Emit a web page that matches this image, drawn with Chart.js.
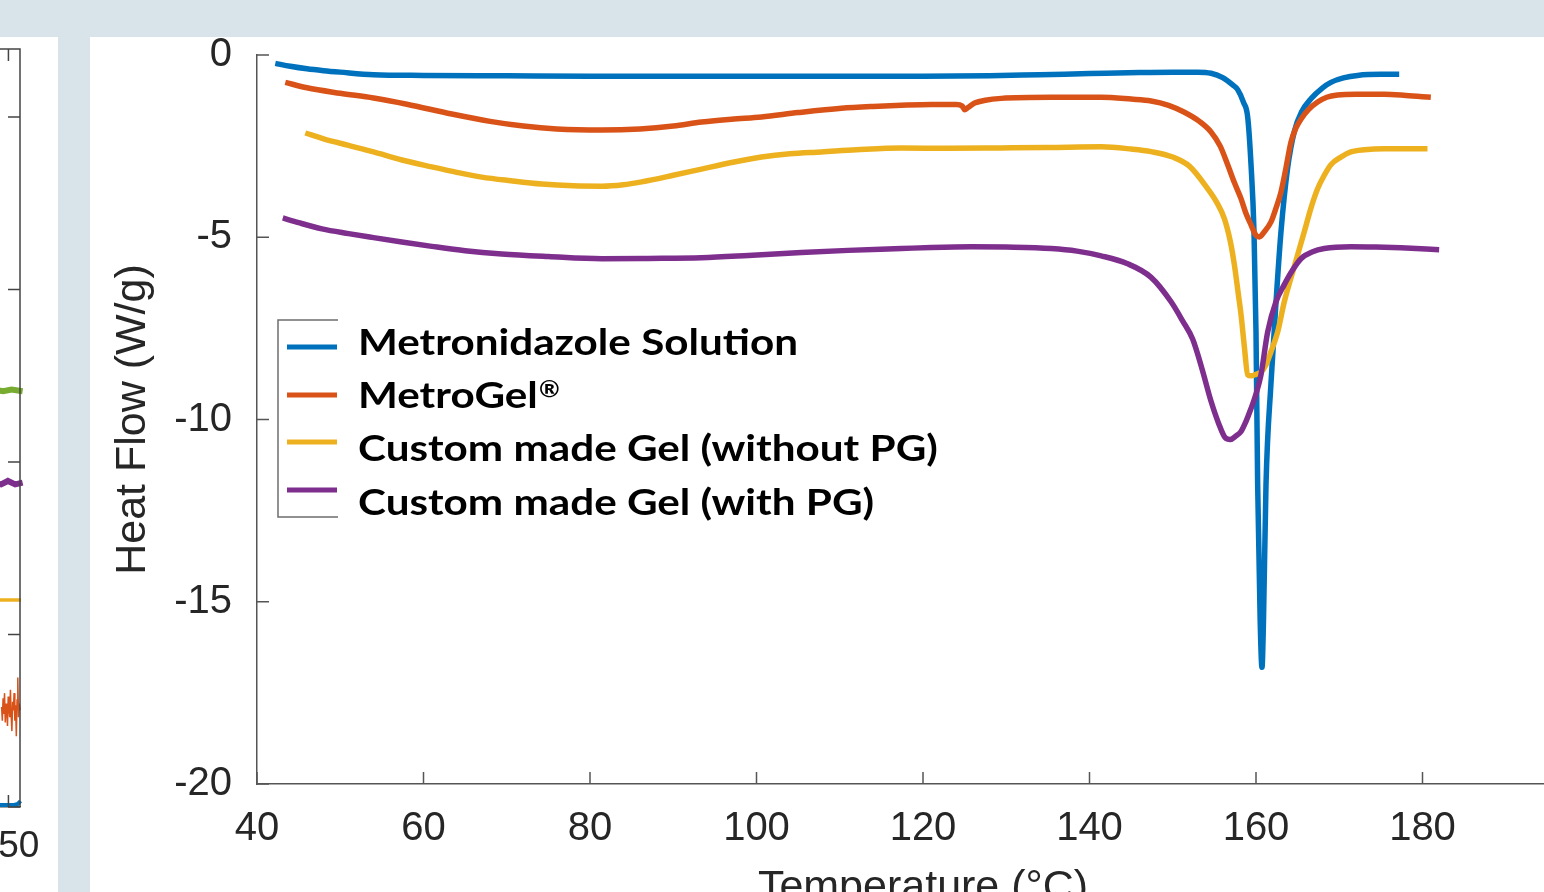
<!DOCTYPE html>
<html>
<head>
<meta charset="utf-8">
<script src="https://cdn.jsdelivr.net/npm/chart.js@4.4.1/dist/chart.umd.min.js"></script>
<style>
  html, body { margin:0; padding:0; width:1544px; height:892px; overflow:hidden; background:#d8e4ea; }
  #leftPanel { position:absolute; left:0; top:37px; width:58px; height:855px; background:#fff; overflow:hidden; }
  #leftCanvas { position:absolute; left:-580px; top:0; }
  #mainPanel { position:absolute; left:90px; top:37px; width:1454px; height:855px; background:#fff; }
  #mainCanvas { position:absolute; left:90px; top:14px; z-index:2; }
</style>
</head>
<body>
<div id="leftPanel"><canvas id="leftCanvas" width="640" height="855"></canvas></div>
<div id="mainPanel"></div>
<canvas id="mainCanvas" width="1499" height="900"></canvas>
<script>
// ---------- main chart data (temperature °C, heat flow W/g) ----------
const seriesNames = ['Metronidazole Solution', 'MetroGel®', 'Custom made Gel (without PG)', 'Custom made Gel (with PG)'];
const seriesColors = ['#0072BD', '#D95319', '#EDB120', '#7E2F8E'];
const xTicks = [40, 60, 80, 100, 120, 140, 160, 180];
const yTicks = [0, -5, -10, -15, -20];

const metronidazoleSolution = [
  [42.2,-0.23],[44,-0.31],[46,-0.38],[48,-0.43],[50,-0.47],[54,-0.54],[60,-0.56],[70,-0.57],[80,-0.58],
  [90,-0.58],[100,-0.58],[110,-0.58],[120,-0.58],[128,-0.57],[134,-0.54],[140,-0.51],[146,-0.48],
  [150,-0.47],[153,-0.47],[154.6,-0.5],[156.0,-0.62],[157.2,-0.82],[157.8,-0.95],[158.5,-1.3],
  [159.0,-1.7],[159.4,-3.0],[159.76,-4.85],[160.0,-7.6],[160.2,-11.8],[160.5,-15.5],[160.72,-16.8],
  [160.9,-15.5],[161.2,-11.8],[161.8,-9.0],[162.4,-6.8],[163.0,-4.85],[163.8,-3.1],[164.6,-2.1],
  [165.5,-1.55],[166.6,-1.2],[168.0,-0.9],[169.0,-0.75],[170.5,-0.63],[172.2,-0.56],[175,-0.53],[177.2,-0.53]
];
const metroGel = [
  [43.4,-0.75],[46,-0.9],[50,-1.05],[54,-1.18],[58,-1.35],[63.4,-1.62],[68,-1.82],[72,-1.95],[76,-2.03],
  [81.4,-2.06],[86,-2.03],[90,-1.95],[93.4,-1.84],[97,-1.76],[100.6,-1.7],[105,-1.58],[110.2,-1.46],
  [114,-1.41],[117.4,-1.38],[121,-1.36],[124,-1.36],[124.7,-1.40],[125.0,-1.50],[125.4,-1.44],
  [126.2,-1.32],[127.5,-1.24],[129.4,-1.19],[135.4,-1.16],[141.4,-1.16],[145,-1.21],[147.4,-1.26],
  [149.5,-1.38],[151.4,-1.57],[153.2,-1.82],[154.6,-2.11],[155.7,-2.5],[156.6,-3.01],[157.4,-3.5],
  [158.2,-3.94],[158.8,-4.35],[159.4,-4.66],[160.0,-4.95],[160.4,-4.99],[161.0,-4.85],[161.8,-4.58],
  [162.4,-4.2],[163.0,-3.76],[163.6,-3.1],[164.2,-2.39],[164.8,-2.0],[165.4,-1.76],[166.3,-1.5],
  [167.4,-1.29],[168.5,-1.16],[169.8,-1.1],[172,-1.08],[175.4,-1.08],[178,-1.11],[181.0,-1.16]
];
const gelWithoutPG = [
  [45.8,-2.14],[48,-2.3],[51,-2.48],[54,-2.66],[57.4,-2.88],[61,-3.07],[64,-3.22],[67,-3.35],[70.5,-3.45],
  [74.2,-3.54],[78,-3.59],[81.4,-3.6],[84,-3.56],[86.2,-3.48],[90,-3.3],[93.4,-3.13],[97,-2.95],
  [100.6,-2.8],[104,-2.71],[107.8,-2.66],[112,-2.6],[117.4,-2.55],[123,-2.56],[129.4,-2.55],[135,-2.54],
  [141.4,-2.52],[145,-2.58],[147.4,-2.65],[150,-2.8],[152,-3.05],[154.2,-3.67],[155.3,-4.05],
  [156.2,-4.49],[156.9,-5.1],[157.4,-5.75],[157.9,-6.6],[158.2,-7.12],[158.6,-8.0],[159.0,-8.77],
  [159.4,-8.8],[160.0,-8.76],[160.6,-8.7],[161.2,-8.5],[161.8,-8.14],[162.6,-7.6],[163.4,-6.77],
  [164.6,-5.8],[165.8,-4.85],[166.6,-4.2],[167.4,-3.67],[168.2,-3.3],[169.0,-3.01],[170.2,-2.8],
  [171.4,-2.66],[173,-2.6],[175.4,-2.57],[178,-2.57],[180.6,-2.57]
];
const gelWithPG = [
  [43.1,-4.47],[45,-4.6],[47.8,-4.77],[51,-4.9],[54,-5.01],[57.4,-5.13],[61,-5.25],[65,-5.37],[69.4,-5.46],
  [75,-5.53],[81.4,-5.59],[87,-5.58],[93.4,-5.56],[99,-5.5],[105.4,-5.42],[111,-5.36],[117.4,-5.31],
  [121,-5.28],[125.8,-5.26],[130,-5.27],[135.4,-5.31],[138.5,-5.38],[141.4,-5.51],[144.5,-5.72],
  [147.4,-6.1],[149.8,-6.77],[151.2,-7.3],[152.4,-7.8],[153.5,-8.6],[154.6,-9.5],[155.5,-10.1],
  [156.3,-10.5],[156.9,-10.55],[157.6,-10.45],[158.2,-10.33],[158.8,-10.05],[159.4,-9.7],[160.0,-9.3],
  [160.6,-8.77],[161.4,-7.6],[162.4,-6.77],[163.4,-6.3],[164.4,-5.9],[165.4,-5.59],[166.8,-5.4],
  [168.2,-5.31],[171.4,-5.26],[174.4,-5.27],[177.4,-5.29],[182.0,-5.34]
];

// ---------- neighbouring (cropped) panel on the left ----------
const leftColors = ['#77AC30', '#7E2F8E', '#EDB120', '#D95319', '#0072BD'];
const leftXTicks = [50, 100, 150];
const leftYTicks = [0, 1, 2, 3, 4];
const leftGreen  = [[147,2.42],[149,2.41],[150.6,2.42],[152.7,2.41]];
const leftPurple = [[147,1.88],[148.6,1.87],[149.9,1.89],[151.3,1.87],[152.7,1.88]];
const leftYellow = [[147,1.2],[149,1.2],[151,1.2],[152.4,1.2]];
const leftOrange = [[148.7,0.58],[148.84,0.50],[148.98,0.63],[149.12,0.54],[149.26,0.66],[149.4,0.49],
  [149.54,0.60],[149.68,0.55],[149.82,0.47],[149.96,0.64],[150.1,0.57],[150.24,0.52],[150.38,0.68],
  [150.52,0.53],[150.66,0.44],[150.8,0.61],[150.94,0.56],[151.08,0.66],[151.22,0.50],[151.36,0.59],
  [151.5,0.41],[151.64,0.62],[151.78,0.75],[151.92,0.52],[152.06,0.60],[152.2,0.56]];
const leftBlue   = [[147,0.012],[151.1,0.012],[151.8,0.018],[152.3,0.035],[152.7,0.06]];

const toXY = arr => arr.map(p => ({x: p[0], y: p[1]}));

const inwardTicks = {
  id: 'inwardTicks',
  afterDraw(chart, args, o) {
    const {ctx, chartArea: a, scales} = chart;
    ctx.save();
    ctx.strokeStyle = o.color; ctx.lineWidth = o.width;
    ctx.beginPath();
    scales.x.ticks.forEach(t => {
      const px = scales.x.getPixelForValue(t.value);
      ctx.moveTo(px, a.bottom); ctx.lineTo(px, a.bottom - o.len);
      if (o.box) { ctx.moveTo(px, a.top); ctx.lineTo(px, a.top + o.len); }
    });
    scales.y.ticks.forEach(t => {
      const py = scales.y.getPixelForValue(t.value);
      ctx.moveTo(a.left, py); ctx.lineTo(a.left + o.len, py);
      if (o.box) { ctx.moveTo(a.right, py); ctx.lineTo(a.right - o.len, py); }
    });
    if (o.box) {
      ctx.moveTo(a.left, a.top); ctx.lineTo(a.right, a.top); ctx.lineTo(a.right, a.bottom);
    }
    ctx.stroke();
    ctx.restore();
  }
};

const boxLegend = {
  id: 'boxLegend',
  afterDraw(chart, args, o) {
    if (!o.display) return;
    const ctx = chart.ctx;
    ctx.save();
    ctx.strokeStyle = '#6e6e6e'; ctx.lineWidth = 1.5;
    ctx.beginPath();
    ctx.moveTo(o.boxRight, o.boxTop); ctx.lineTo(o.boxLeft, o.boxTop);
    ctx.lineTo(o.boxLeft, o.boxBottom); ctx.lineTo(o.boxRight, o.boxBottom);
    ctx.stroke();
    chart.data.datasets.forEach((ds, i) => {
      ctx.strokeStyle = ds.borderColor; ctx.lineWidth = 5;
      ctx.beginPath();
      ctx.moveTo(o.lineX0, o.lineY[i]); ctx.lineTo(o.lineX1, o.lineY[i]);
      ctx.stroke();
    });
    ctx.font = o.font;
    ctx.fillStyle = '#000';
    ctx.textBaseline = 'alphabetic';
    const sx = o.firstWidth / ctx.measureText(chart.data.datasets[0].label).width;
    chart.data.datasets.forEach((ds, i) => {
      ctx.save();
      ctx.translate(o.textX, o.textY[i]);
      ctx.scale(sx, 1);
      const label = ds.label;
      const k = label.indexOf('®');
      if (k >= 0) {
        const main = label.slice(0, k);
        ctx.font = o.font;
        ctx.fillText(main, 0, 0);
        const w = ctx.measureText(main).width;
        ctx.font = o.smallFont;
        ctx.fillText('®', w + 1, -11);
      } else {
        ctx.fillText(label, 0, 0);
      }
      ctx.restore();
    });
    ctx.restore();
  }
};

const tickFont = {family: "'Liberation Sans', Arial, sans-serif", size: 40};
const titleFont = {family: "'Liberation Sans', Arial, sans-serif", size: 43};
const tickColor = '#262626';

new Chart(document.getElementById('mainCanvas'), {
  type: 'line',
  data: {
    datasets: [metronidazoleSolution, metroGel, gelWithoutPG, gelWithPG].map((d, i) => ({
      label: seriesNames[i],
      data: toXY(d),
      borderColor: seriesColors[i],
      backgroundColor: seriesColors[i],
      borderWidth: 5.5,
      pointRadius: 0,
      cubicInterpolationMode: 'monotone',
      fill: false,
      order: 3 - i
    }))
  },
  options: {
    responsive: false, animation: false, devicePixelRatio: 1,
    layout: {padding: {top: 30, left: 0, right: 0, bottom: 0}},
    plugins: {
      legend: {display: false}, tooltip: {enabled: false},
      inwardTicks: {color: '#555', width: 1.5, len: 12, box: false},
      boxLegend: {
        display: true,
        boxLeft: 188, boxTop: 306, boxBottom: 503, boxRight: 248,
        lineX0: 197, lineX1: 247, lineY: [333, 381, 428, 476],
        textX: 268, textY: [341, 394, 447, 501],
        font: "bold 37px Lato, 'Open Sans', sans-serif",
        smallFont: "bold 22px Lato, 'Open Sans', sans-serif",
        firstWidth: 440
      }
    },
    scales: {
      x: {
        type: 'linear', min: 40, max: 200,
        afterBuildTicks: s => { s.ticks = xTicks.map(v => ({value: v})); },
        afterFit: s => { s.height = 130; },
        grid: {display: false},
        border: {display: true, color: '#555', width: 1.5},
        ticks: {font: tickFont, color: tickColor, padding: 13, maxRotation: 0, autoSkip: false},
        title: {display: true, text: 'Temperature (°C)', font: titleFont, color: tickColor, padding: {top: 0, bottom: 0}}
      },
      y: {
        type: 'linear', min: -20, max: 0,
        afterBuildTicks: s => { s.ticks = yTicks.map(v => ({value: v})); },
        afterFit: s => { s.width = 167; },
        grid: {display: false},
        border: {display: true, color: '#555', width: 1.5},
        ticks: {font: tickFont, color: tickColor, padding: 17, autoSkip: false},
        title: {display: true, text: 'Heat Flow (W/g)', font: titleFont, color: tickColor, padding: {top: 17, bottom: 0}}
      }
    }
  },
  plugins: [inwardTicks, boxLegend]
});

new Chart(document.getElementById('leftCanvas'), {
  type: 'line',
  data: {
    datasets: [leftGreen, leftPurple, leftYellow, leftOrange, leftBlue].map((d, i) => ({
      label: 'left' + i,
      data: toXY(d),
      borderColor: leftColors[i],
      borderWidth: [6, 6, 3.5, 1.5, 4][i],
      pointRadius: 0,
      tension: 0,
      fill: false,
      clip: 8
    }))
  },
  options: {
    responsive: false, animation: false, devicePixelRatio: 1,
    layout: {padding: {top: 12, left: 0, right: 40, bottom: 0}},
    plugins: {legend: {display: false}, tooltip: {enabled: false}, boxLegend: {display: false},
      inwardTicks: {color: '#444', width: 1.5, len: 12, box: true}},
    scales: {
      x: {
        type: 'linear', min: 40, max: 152.2,
        afterBuildTicks: s => { s.ticks = leftXTicks.map(v => ({value: v})); },
        afterFit: s => { s.height = 85; },
        grid: {display: false},
        border: {display: true, color: '#444', width: 1.5},
        ticks: {font: {family: "'Liberation Sans', Arial, sans-serif", size: 37}, color: tickColor, padding: 10, maxRotation: 0, autoSkip: false}
      },
      y: {
        type: 'linear', min: 0, max: 4.394,
        afterBuildTicks: s => { s.ticks = leftYTicks.map(v => ({value: v})); },
        afterFit: s => { s.width = 10; },
        grid: {display: false},
        border: {display: true, color: '#444', width: 1.5},
        ticks: {display: false}
      }
    }
  },
  plugins: [inwardTicks, boxLegend]
});
</script>
</body>
</html>
